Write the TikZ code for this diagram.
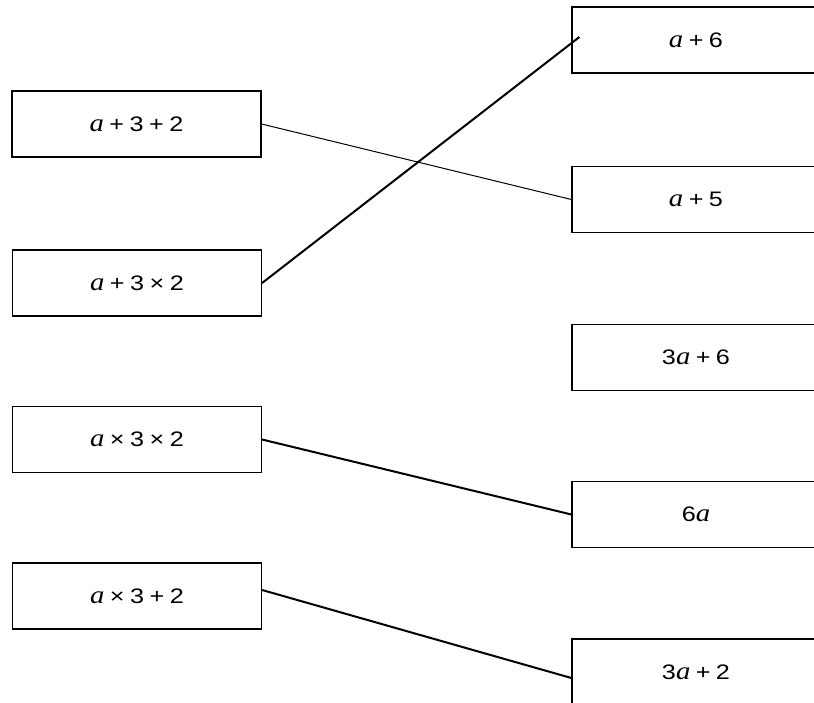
\documentclass[tikz,border=0pt]{standalone}
\usepackage{fontspec}
\setmainfont[FakeStretch=1.2]{Liberation Sans}
\newfontfamily\varfont[FakeStretch=1.15]{Liberation Serif}
\newcommand\va{{\fontsize{25}{27}\selectfont\varfont\itshape a}}
\newcommand\opsp[1]{\hspace{0.26em}#1\hspace{0.26em}}
\begin{document}
\begin{tikzpicture}[x=1pt,y=-1pt,
  box/.style={draw,line width=1.2pt,rectangle,minimum width=249pt,minimum height=66pt,inner sep=0pt,
    font=\fontsize{21}{24}\selectfont},
  thinlink/.style={line width=1pt},
  thicklink/.style={line width=2pt}]
\useasboundingbox (0,0) rectangle (814,702);
\fill[white] (0,0) rectangle (814,702);
\clip (0,0) rectangle (814,702);
% left column
\node[box] (l1) at (136.5,124) {\va\opsp{+}3\opsp{+}2};
\node[box] (l2) at (137,283) {\va\opsp{+}3\opsp{×}2};
\node[box] (l3) at (137,439.5) {\va\opsp{×}3\opsp{×}2};
\node[box] (l4) at (137,596) {\va\opsp{×}3\opsp{+}2};
% right column
\node[box,minimum width=248pt] (r1) at (696,40) {\va\opsp{+}6};
\node[box,minimum width=248pt] (r2) at (696,199.5) {\va\opsp{+}5};
\node[box,minimum width=248pt] (r3) at (696,357.5) {3\va\opsp{+}6};
\node[box,minimum width=248pt] (r4) at (696,514.5) {6\va};
\node[box,minimum width=248pt] (r5) at (696,672) {3\va\opsp{+}2};
% connectors
\draw[thinlink] (l1.east) -- (r2.west);
\draw[thicklink] (l2.east) -- ([shift={(8pt,3pt)}]r1.west);
\draw[thicklink] (l3.east) -- (r4.west);
\draw[thicklink] ([yshift=6pt]l4.east) -- ([yshift=-6pt]r5.west);
\end{tikzpicture}
\end{document}
